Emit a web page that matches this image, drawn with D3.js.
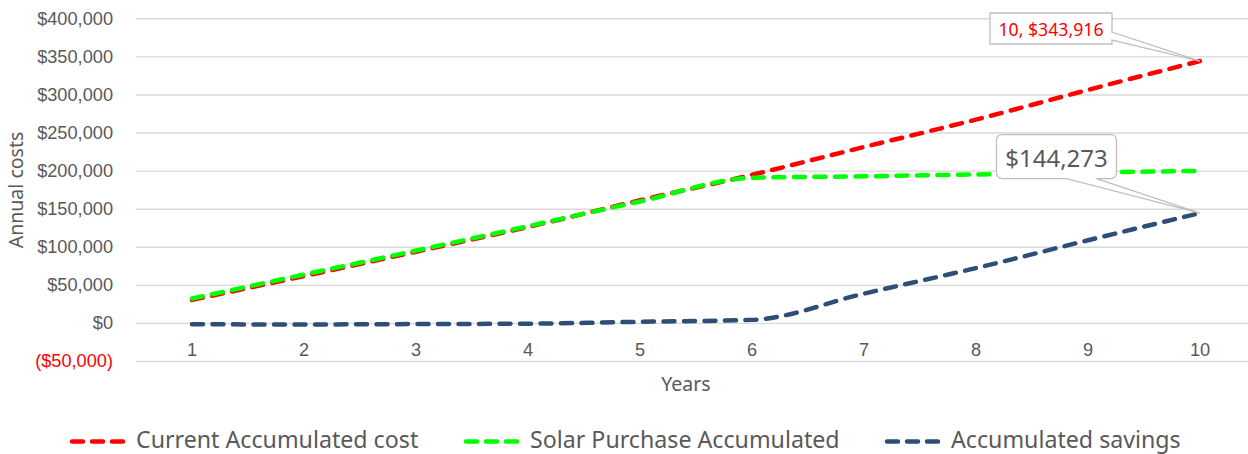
<!DOCTYPE html>
<html>
<head>
<meta charset="utf-8">
<script src="https://cdn.jsdelivr.net/npm/d3@7"></script>
<style>
  body { margin: 0; background: #fff; }
  svg { display: block; font-family: "Noto Sans", sans-serif; }
</style>
</head>
<body>
<div id="chart"></div>
<script>
// datos
const years = [1, 2, 3, 4, 5, 6, 7, 8, 9, 10];
const currentCost = [30200, 61500, 93500, 126000, 161000, 194500, 231000, 267000, 306000, 343916];
const solarCost = [32000, 63500, 95000, 127000, 159500, 190500, 192500, 195000, 197500, 199643];
const savings = [-1800, -2000, -1500, -1000, 1500, 4000, 38500, 72000, 108500, 144273];
const yTicks = [-50000, 0, 50000, 100000, 150000, 200000, 250000, 300000, 350000, 400000];

const series = [
  { name: "Current Accumulated cost", values: currentCost, color: "#ff0000" },
  { name: "Solar Purchase Accumulated", values: solarCost, color: "#00ff00" },
  { name: "Accumulated savings", values: savings, color: "#2e4e78" }
];

const W = 1248, H = 454;
const plot = { left: 136, right: 1256, top: 18.3, bottom: 361 };

const svg = d3.select("#chart").append("svg")
  .attr("width", W)
  .attr("height", H);

const x = d3.scaleBand().domain(years).range([plot.left, plot.right]);
const cx = d => x(d) + x.bandwidth() / 2;
const y = d3.scaleLinear().domain([-50000, 400000]).range([plot.bottom, plot.top]);

const money = v => v < 0 ? "($" + d3.format(",")(-v) + ")" : "$" + d3.format(",")(v);

// eje Y con lineas de cuadricula
const yAxis = svg.append("g")
  .attr("transform", "translate(" + plot.left + ",0)")
  .call(d3.axisLeft(y).tickValues(yTicks).tickFormat(money)
    .tickSize(-(plot.right - plot.left)).tickPadding(23));
yAxis.select(".domain").remove();
yAxis.selectAll(".tick line").attr("stroke", "#d9d9d9").attr("stroke-width", 1.4);
yAxis.selectAll(".tick text")
  .attr("font-size", 18.2)
  .attr("fill", d => d < 0 ? "#ff0000" : "#595959");

// eje X en el cero
const xAxis = svg.append("g")
  .attr("transform", "translate(0," + y(0) + ")")
  .call(d3.axisBottom(x).tickSize(0).tickPadding(20));
xAxis.select(".domain").remove();
xAxis.selectAll(".tick text").attr("font-size", 18.2).attr("fill", "#595959");

// titulos de ejes
svg.append("text")
  .attr("x", 686).attr("y", 390.5)
  .attr("text-anchor", "middle")
  .attr("font-size", 19.5).attr("fill", "#595959")
  .text("Years");
svg.append("text")
  .attr("transform", "translate(23," + 190 + ") rotate(-90)")
  .attr("text-anchor", "middle")
  .attr("font-size", 19.5).attr("fill", "#595959")
  .text("Annual costs");

// lineas
const line = d3.line()
  .x((d, i) => cx(years[i]))
  .y(d => y(d))
  .curve(d3.curveMonotoneX);

series.forEach(s => {
  svg.append("path")
    .attr("d", line(s.values))
    .attr("fill", "none")
    .attr("stroke", s.color)
    .attr("stroke-width", 4.5)
    .attr("stroke-linecap", "round")
    .attr("stroke-dasharray", "11,9.5");
});

// etiqueta roja (punto final de costo actual)
const px1 = cx(10), py1 = y(currentCost[9]);
svg.append("path")
  .attr("d", "M" + (px1 - 210) + "," + (py1 - 48) +
    "H" + (px1 - 88) + "V" + (py1 - 29) + "L" + px1 + "," + py1 +
    "L" + (px1 - 88) + "," + (py1 - 21) + "V" + (py1 - 17) +
    "H" + (px1 - 210) + "Z")
  .attr("fill", "#fff")
  .attr("stroke", "#bfbfbf")
  .attr("stroke-width", 1.3);
svg.append("text")
  .attr("x", px1 - 149).attr("y", py1 - 25.5)
  .attr("text-anchor", "middle")
  .attr("font-size", 17.7).attr("fill", "#ff0000")
  .text(years[9] + ", " + money(currentCost[9]));

// etiqueta de ahorro
const px2 = cx(10), py2 = y(savings[9]);
const bx = px2 - 203.5, by = py2 - 78.5, bw = 120, bh = 44, r = 6;
svg.append("path")
  .attr("d", "M" + (bx + r) + "," + by + "H" + (bx + bw - r) +
    "Q" + (bx + bw) + "," + by + " " + (bx + bw) + "," + (by + r) +
    "V" + (by + bh - r) +
    "Q" + (bx + bw) + "," + (by + bh) + " " + (bx + bw - r) + "," + (by + bh) +
    "H" + (bx + 100) + "L" + px2 + "," + py2 + "L" + (bx + 70) + "," + (by + bh) +
    "H" + (bx + r) +
    "Q" + bx + "," + (by + bh) + " " + bx + "," + (by + bh - r) +
    "V" + (by + r) +
    "Q" + bx + "," + by + " " + (bx + r) + "," + by + "Z")
  .attr("fill", "#fff")
  .attr("stroke", "#bfbfbf")
  .attr("stroke-width", 1.3);
svg.append("text")
  .attr("x", bx + bw / 2).attr("y", by + 32)
  .attr("text-anchor", "middle")
  .attr("font-size", 24).attr("fill", "#595959")
  .text(money(savings[9]));

// leyenda
const legendX = [70, 464, 885];
series.forEach((s, i) => {
  const g = svg.append("g").attr("transform", "translate(" + legendX[i] + ",441.5)");
  g.append("line")
    .attr("x1", 2).attr("x2", 53)
    .attr("stroke", s.color)
    .attr("stroke-width", 4.5)
    .attr("stroke-linecap", "round")
    .attr("stroke-dasharray", "11,9");
  g.append("text")
    .attr("x", 66).attr("y", 6.5)
    .attr("font-size", 23.2).attr("fill", "#595959")
    .text(s.name);
});
</script>
</body>
</html>
